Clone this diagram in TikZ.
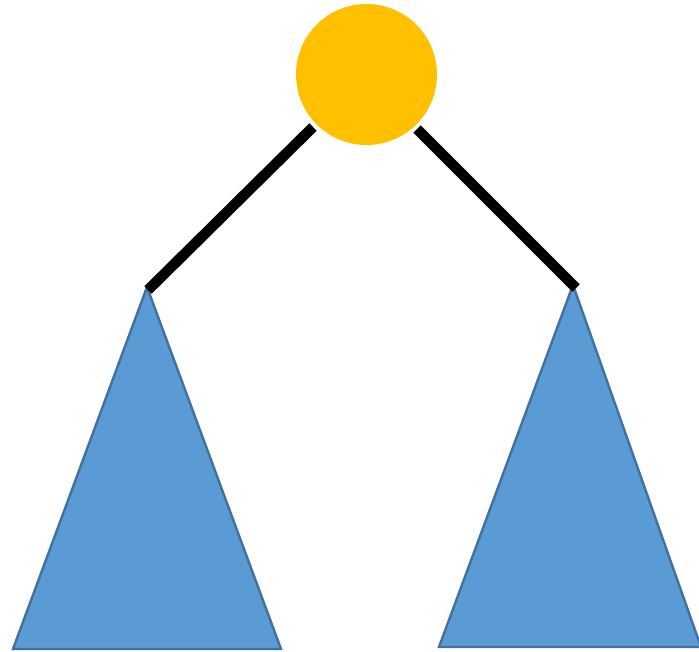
\documentclass[tikz,border=0pt]{standalone}
\definecolor{gold}{HTML}{FFC000}
\definecolor{tfill}{HTML}{5B9BD5}
\definecolor{tedge}{HTML}{41719C}
\begin{document}
\begin{tikzpicture}[x=1pt,y=-1pt,
  rootnode/.style={circle,fill=gold,minimum size=141pt,inner sep=0pt},
  subtree/.style={fill=tfill,draw=tedge,line width=2.4pt,line join=miter},
  edgeline/.style={line width=10.5pt,line cap=butt}]
\useasboundingbox (0,0) rectangle (699,651);
\node[rootnode] (root) at (366.5,74.5) {};
\coordinate (la) at (147,287);
\coordinate (ll) at (13,649);
\coordinate (lr) at (281,649);
\coordinate (ra) at (573,285);
\coordinate (rl) at (439,647);
\coordinate (rr) at (701,647);
\draw[subtree] (la) -- (lr) -- (ll) -- cycle;
\draw[subtree] (ra) -- (rr) -- (rl) -- cycle;
\coordinate (l1) at (313,127);
\coordinate (l2) at (148,290);
\coordinate (r1) at (417,129);
\coordinate (r2) at (576,288);
\draw[edgeline] (l1) -- (l2);
\draw[edgeline] (r1) -- (r2);
\end{tikzpicture}
\end{document}
